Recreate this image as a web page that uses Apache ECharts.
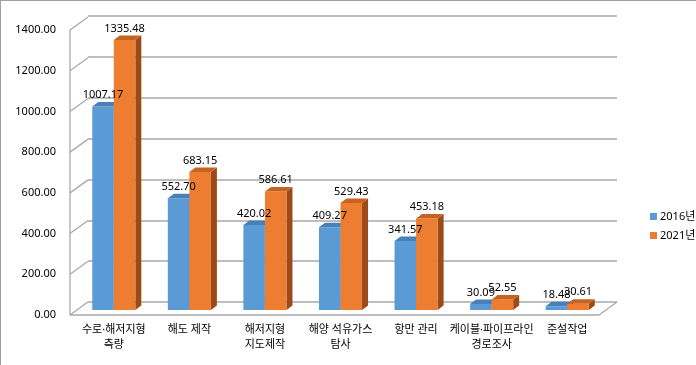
<!DOCTYPE html>
<html><head><meta charset="utf-8">
<script src="https://cdn.jsdelivr.net/npm/echarts@6/dist/echarts.min.js"></script>
<style>html,body{margin:0;padding:0;background:#fff}#c{width:696px;height:365px}</style>
</head><body><div id="c"></div>
<script>
const categories = ['수로·해저지형\n측량','해도 제작','해저지형\n지도제작','해양 석유가스\n탐사','항만 관리','케이블·파이프라인\n경로조사','준설작업'];
const values2016 = [1007.17, 552.70, 420.02, 409.27, 341.57, 30.09, 18.48];
const values2021 = [1335.48, 683.15, 586.61, 529.43, 453.18, 52.55, 30.61];
const yTicks = [0, 200, 400, 600, 800, 1000, 1200, 1400];
const seriesNames = ['2016년', '2021년'];

const FONT = '"Noto Sans", "Noto Sans CJK KR", sans-serif';
const WALL = '#a9a9a9';
const DX = 18, DY = 13;      // wall depth
const BDX = 6, BDY = 4.5;    // bar depth
const BAR_FRAC = 0.285;
const colors = [
  {front:'#5b9bd5', top:'#4a80b8', side:'#3d6d9e'},
  {front:'#ed7d31', top:'#c8621f', side:'#9c4a18'}
];

const chart = echarts.init(document.getElementById('c'));

function wallItem(params, api){
  const cs = params.coordSys;
  const v = api.value(0);
  const y = api.coord([0, v])[1];
  const x = cs.x;
  const children = [{type:'line', shape:{x1:x, y1:y, x2:x+DX, y2:y-DY}, style:{stroke:WALL, lineWidth:1.3}}];
  if (v === 0) {
    const yTop = api.coord([0, yTicks[yTicks.length-1]])[1];
    children.push({type:'line', shape:{x1:x, y1:yTop, x2:x, y2:y}, style:{stroke:WALL, lineWidth:1.3}});
    children.push({type:'line', shape:{x1:x, y1:y, x2:x+cs.width, y2:y}, style:{stroke:WALL, lineWidth:1.3}});
    children.push({type:'line', shape:{x1:x+cs.width, y1:y, x2:x+cs.width+DX, y2:y-DY}, style:{stroke:WALL, lineWidth:1.3}});
  }
  return {type:'group', children};
}

function barGeom(api, sIdx, i, v){
  const base = api.coord([i, 0]);
  const top = api.coord([i, v]);
  const bw = api.size([1, 0])[0] * BAR_FRAC;
  const x0 = sIdx === 0 ? base[0] - bw : base[0];
  return {x0, bw, yb:base[1], yt:top[1]};
}

function barRender(sIdx){
  return function(params, api){
    const g = barGeom(api, sIdx, api.value(0), api.value(1));
    const {x0, bw, yb, yt} = g;
    const c = colors[sIdx];
    return {type:'group', children:[
      {type:'polygon', shape:{points:[[x0+bw,yt],[x0+bw+BDX,yt-BDY],[x0+bw+BDX,yb-BDY],[x0+bw,yb]]}, style:{fill:c.side}},
      {type:'rect', shape:{x:x0, y:yt, width:bw, height:yb-yt}, style:{fill:c.front}},
      {type:'polygon', shape:{points:[[x0,yt],[x0+bw,yt],[x0+bw+BDX,yt-BDY],[x0+BDX,yt-BDY]]}, style:{fill:c.top}}
    ]};
  };
}

function labelRender(params, api){
  const s = api.value(0), i = api.value(1), v = api.value(2);
  const g = barGeom(api, s, i, v);
  return {type:'text', style:{x:g.x0+g.bw/2, y:g.yt-6, text:v.toFixed(2), align:'center', verticalAlign:'bottom', fill:'#000', font:'11px ' + FONT}};
}

const labelData = values2016.map((v,i)=>[0,i,v]).concat(values2021.map((v,i)=>[1,i,v]));

chart.setOption({
  animation:false,
  backgroundColor:'#fff',
  graphic:[
    {type:'line', shape:{x1:0,y1:0.5,x2:696,y2:0.5}, style:{stroke:'#a0a0a0', lineWidth:1}},
    {type:'line', shape:{x1:0.5,y1:0,x2:0.5,y2:365}, style:{stroke:'#a0a0a0', lineWidth:1}}
  ],
  legend:{
    orient:'vertical', left:645, top:206, itemWidth:7, itemHeight:7, itemGap:8,
    icon:'rect', data:seriesNames,
    textStyle:{fontFamily:FONT, fontSize:11, color:'#000', padding:[0,0,0,-2]}
  },
  grid:[
    {left:70, top:30, width:529, height:285},
    {left:88, top:16, width:529, height:286},
    {left:76, top:27, width:529, height:283}
  ],
  xAxis:[
    {gridIndex:0, type:'category', data:categories, show:false},
    {gridIndex:1, type:'category', data:categories, show:false},
    {gridIndex:2, type:'category', data:categories, axisLine:{show:false}, axisTick:{show:false},
     axisLabel:{margin:12, fontFamily:FONT, fontSize:11, color:'#000', lineHeight:15, interval:0}}
  ],
  yAxis:[
    {gridIndex:0, type:'value', min:0, max:1400, interval:200, axisLine:{show:false}, axisTick:{show:false}, splitLine:{show:false},
     axisLabel:{margin:14, fontFamily:FONT, fontSize:11, color:'#000', formatter:v=>v.toFixed(2)}},
    {gridIndex:1, type:'value', min:0, max:1400, interval:200, axisLine:{show:false}, axisTick:{show:false}, axisLabel:{show:false},
     splitLine:{show:true, lineStyle:{color:WALL, width:1.5}}},
    {gridIndex:2, type:'value', min:0, max:1400, interval:200, show:false, splitLine:{show:false}}
  ],
  series:[
    {type:'custom', xAxisIndex:0, yAxisIndex:0, data:yTicks.map(v=>[v]), renderItem:wallItem, silent:true, z:1},
    {type:'custom', name:seriesNames[0], xAxisIndex:2, yAxisIndex:2, itemStyle:{color:colors[0].front},
     data:values2016.map((v,i)=>[i,v]), renderItem:barRender(0), z:3},
    {type:'custom', name:seriesNames[1], xAxisIndex:2, yAxisIndex:2, itemStyle:{color:colors[1].front},
     data:values2021.map((v,i)=>[i,v]), renderItem:barRender(1), z:4},
    {type:'custom', xAxisIndex:2, yAxisIndex:2, data:labelData, renderItem:labelRender, silent:true, z:6,
     encode:{x:1, y:2}}
  ]
});
</script></body></html>
